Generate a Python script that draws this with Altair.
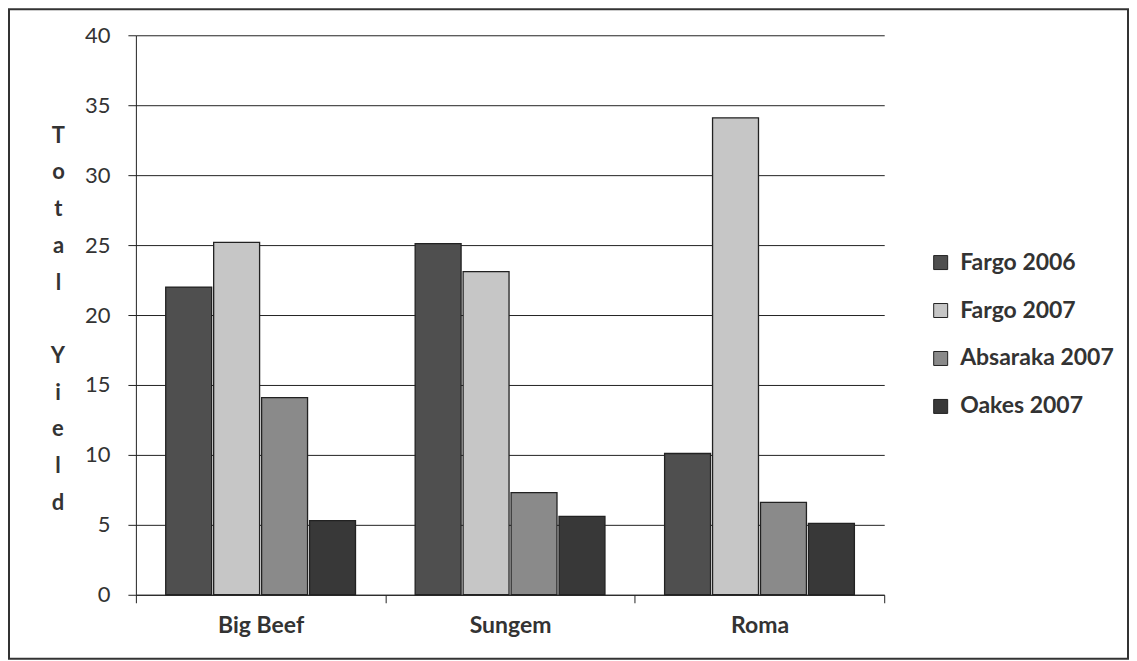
import altair as alt
import pandas as pd

varieties = ["Big Beef", "Sungem", "Roma"]
series = ["Fargo 2006", "Fargo 2007", "Absaraka 2007", "Oakes 2007"]
fargo_2006 = [22.0, 25.1, 10.1]
fargo_2007 = [25.2, 23.1, 34.1]
absaraka_2007 = [14.1, 7.3, 6.6]
oakes_2007 = [5.3, 5.6, 5.1]
colors = ["#4f4f4f", "#c6c6c6", "#8a8a8a", "#383838"]
y_title_1 = ["T", "o", "t", "a", "l"]
y_title_2 = ["Y", "i", "e", "l", "d"]

rows = []
for name, vals in zip(series, [fargo_2006, fargo_2007, absaraka_2007, oakes_2007]):
    for v, val in zip(varieties, vals):
        rows.append({"Variety": v, "Series": name, "Yield": val})
df = pd.DataFrame(rows)

W, H = 749, 560
FONT = "Lato"
LH = 36.8

bars = alt.Chart(df).mark_bar(stroke="#222222", strokeWidth=1.3).encode(
    x=alt.X("Variety:N", sort=varieties,
            scale=alt.Scale(paddingInner=0, paddingOuter=0),
            axis=alt.Axis(title=None, labelAngle=0, tickBand="extent", tickSize=8,
                          labelFontSize=23, labelFontWeight="bold", labelColor="#333333",
                          labelPadding=12, domainColor="#222222", tickColor="#222222",
                          grid=False)),
    xOffset=alt.XOffset("Series:N", sort=series,
                        scale=alt.Scale(paddingInner=0.042, paddingOuter=0.622)),
    y=alt.Y("Yield:Q", scale=alt.Scale(domain=[0, 40], nice=False),
            axis=alt.Axis(values=list(range(0, 41, 5)), tickSize=8, labelPadding=18,
                          labelFontSize=22, labelColor="#333333", labelFontWeight="normal",
                          domainColor="#222222", tickColor="#222222",
                          gridColor="#222222", gridWidth=1,
                          title=y_title_1, titleAngle=0, titleX=-78, titleY=90,
                          titleAlign="center", titleBaseline="top",
                          titleFontSize=22, titleFontWeight="bold", titleColor="#333333",
                          titleLineHeight=LH)),
    color=alt.Color("Series:N", sort=series,
                    scale=alt.Scale(domain=series, range=colors),
                    legend=alt.Legend(title=None, orient="none", legendX=794, legendY=216,
                                      symbolType="square", symbolSize=196,
                                      symbolStrokeColor="#222222", symbolStrokeWidth=1,
                                      labelFontSize=23, labelFontWeight="bold",
                                      labelColor="#333333", rowPadding=24, labelOffset=8,
                                      labelLimit=300)),
)

one = pd.DataFrame({"f": [0]})
title2 = alt.Chart(one).mark_text(
    align="center", baseline="top", fontSize=22, fontWeight="bold", color="#333333",
    lineHeight=LH, clip=False
).encode(x=alt.value(-78), y=alt.value(90 + 6 * LH), text=alt.value(y_title_2))

frame = alt.Chart(one).mark_rect(fill=None, stroke="#333333", strokeWidth=2, clip=False).encode(
    x=alt.value(-127), x2=alt.value(W + 244), y=alt.value(-26), y2=alt.value(H + 64)
)

chart = alt.layer(bars, title2, frame).properties(
    width=W, height=H,
    autosize=alt.AutoSizeParams(type="none"),
    padding={"left": 128, "top": 27, "right": 245, "bottom": 65},
).configure(font=FONT).configure_view(stroke=None)

chart.save("out.html", embed_options={"renderer": "svg", "actions": False})
